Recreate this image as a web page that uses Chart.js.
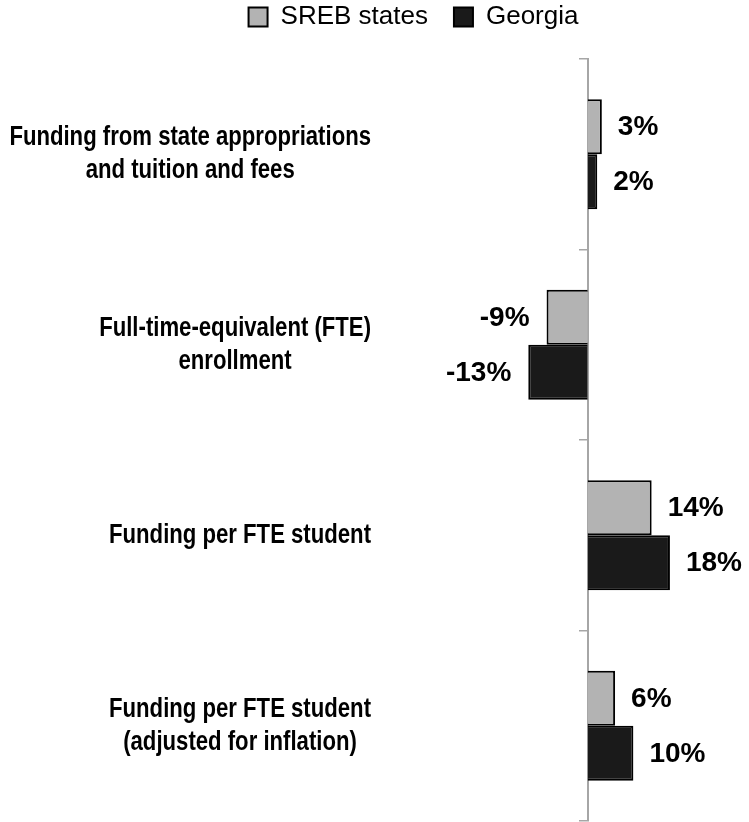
<!DOCTYPE html>
<html>
<head>
<meta charset="utf-8">
<script src="https://cdn.jsdelivr.net/npm/chart.js@4/dist/chart.umd.min.js"></script>
<style>
  html, body { margin: 0; padding: 0; background: #fff; }
  #wrap { width: 749px; height: 822px; position: relative; }
</style>
</head>
<body>
<div id="wrap"><canvas id="fundingChart"></canvas></div>
<script>
const categories = [
  ['Funding from state appropriations', 'and tuition and fees'],
  ['Full-time-equivalent (FTE)', 'enrollment'],
  ['Funding per FTE student'],
  ['Funding per FTE student', '(adjusted for inflation)']
];
const srebValues = [3.1, -9, 14, 6];
const georgiaValues = [2.1, -13, 18, 10];

const FONT = '"Liberation Sans", Arial, sans-serif';

// category labels: block right-aligned, lines centred inside it, narrow bold face
const categoryLabels = {
  id: 'categoryLabels',
  afterDraw(chart) {
    const ctx = chart.ctx;
    const yScale = chart.scales.y;
    const squeeze = 0.82;
    const right = 371;
    const lineH = 33;
    ctx.save();
    ctx.font = 'bold 27px ' + FONT;
    ctx.fillStyle = '#000';
    ctx.textAlign = 'center';
    ctx.textBaseline = 'middle';
    categories.forEach((lines, i) => {
      const y = yScale.getPixelForTick(i);
      const w = Math.max(...lines.map(l => ctx.measureText(l).width)) * squeeze;
      const cx = right - w / 2;
      lines.forEach((line, j) => {
        const ly = y + (j - (lines.length - 1) / 2) * lineH;
        ctx.save();
        ctx.translate(cx, ly);
        ctx.scale(squeeze, 1);
        ctx.fillText(line, 0, 0);
        ctx.restore();
      });
    });
    ctx.restore();
  }
};

const valueLabels = {
  id: 'valueLabels',
  afterDatasetsDraw(chart) {
    const ctx = chart.ctx;
    ctx.save();
    ctx.font = 'bold 28px ' + FONT;
    ctx.fillStyle = '#000';
    ctx.textBaseline = 'middle';
    chart.data.datasets.forEach((ds, di) => {
      chart.getDatasetMeta(di).data.forEach((bar, i) => {
        const v = ds.data[i];
        const text = Math.round(v) + '%';
        if (v >= 0) {
          ctx.textAlign = 'left';
          ctx.fillText(text, bar.x + 16, bar.y + 1);
        } else {
          ctx.textAlign = 'right';
          ctx.fillText(text, bar.x - 17, bar.y + 1);
        }
      });
    });
    ctx.restore();
  }
};

new Chart(document.getElementById('fundingChart').getContext('2d'), {
  type: 'bar',
  data: {
    labels: categories,
    datasets: [{
      label: 'SREB states',
      data: srebValues,
      backgroundColor: '#b3b3b3',
      borderColor: '#000',
      borderWidth: 2
    }, {
      label: 'Georgia',
      data: georgiaValues,
      backgroundColor: '#1a1a1a',
      borderColor: '#000',
      borderWidth: 2
    }]
  },
  options: {
    indexAxis: 'y',
    animation: false,
    responsive: true,
    maintainAspectRatio: false,
    layout: { padding: { left: 78, right: 0, top: -22, bottom: 1 } },
    datasets: {
      bar: { categoryPercentage: 0.578, barPercentage: 1 }
    },
    plugins: {
      tooltip: { enabled: false },
      legend: {
        position: 'top',
        labels: {
          color: '#000',
          font: { family: FONT, size: 26 },
          boxWidth: 19,
          boxHeight: 19,
          padding: 26
        }
      }
    },
    scales: {
      x: {
        position: 'top',
        min: -111.53,
        max: 35.3,
        grid: { display: false },
        border: { display: false },
        ticks: { display: false },
        afterFit(scale) { scale.height = 19; }
      },
      y: {
        position: { x: 0 },
        offset: true,
        grid: {
          offset: true,
          drawOnChartArea: false,
          drawTicks: true,
          tickLength: 8,
          color: '#a6a6a6',
          lineWidth: 1.5
        },
        border: { display: true, color: '#a6a6a6', width: 2 },
        ticks: { display: false }
      }
    }
  },
  plugins: [categoryLabels, valueLabels]
});
</script>
</body>
</html>
